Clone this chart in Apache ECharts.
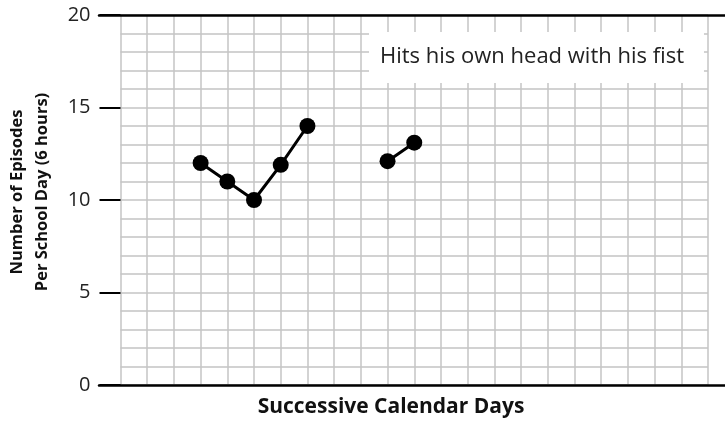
<!DOCTYPE html>
<html>
<head>
<meta charset="utf-8">
<script src="https://cdn.jsdelivr.net/npm/echarts@6/dist/echarts.min.js"></script>
<style>html,body{margin:0;padding:0;background:#fff}#c{width:725px;height:423px}</style>
</head>
<body>
<div id="c"></div>
<script>
var seriesName = 'Hits his own head with his fist';
var days = [3, 4, 5, 6, 7, 8, 9, 10, 11];
var episodes = [12, 11, 10, 11.9, 14, null, null, 12.1, 13.1];
var xMin = 0, xMax = 22;
var yMin = 0, yMax = 20, yStep = 5;
var yTitle = 'Number of Episodes\nPer School Day (6 hours)';
var xTitle = 'Successive Calendar Days';

var FONT = 'Open Sans';
var GRID_C = '#c4c4c4';
var pts = days.map(function (d, i) { return [d, episodes[i] == null ? '-' : episodes[i]]; });

var chart = echarts.init(document.getElementById('c'));
chart.setOption({
  animation: false,
  textStyle: { fontFamily: FONT },
  grid: [
    { left: 120.5, right: 17, top: 15, bottom: 38, outerBoundsMode: 'none', containLabel: false },
    { left: 99, right: 0, top: 15, bottom: 38, outerBoundsMode: 'none', containLabel: false }
  ],
  legend: {
    data: [seriesName], left: 369, top: 32, icon: 'none', itemWidth: 0, itemGap: 0,
    backgroundColor: '#fff', padding: [14, 20, 15, 6],
    textStyle: { fontFamily: FONT, fontSize: 22, color: '#222' }
  },
  xAxis: [
    { type: 'value', gridIndex: 0, min: xMin, max: xMax, interval: 1,
      axisLine: { show: false }, axisTick: { show: false }, axisLabel: { show: false },
      splitLine: { show: true, lineStyle: { color: GRID_C, width: 1.5 } } },
    { type: 'value', gridIndex: 1, min: 0, max: 1, position: 'bottom',
      axisLine: { show: true, lineStyle: { color: '#000', width: 2.5 } },
      axisTick: { show: false }, axisLabel: { show: false }, splitLine: { show: false },
      name: xTitle, nameLocation: 'middle', nameGap: 12,
      nameTextStyle: { fontFamily: FONT, fontWeight: 'bold', fontSize: 21, color: '#111', padding: [0, 42, 0, 0] } },
    { type: 'value', gridIndex: 1, min: 0, max: 1, position: 'top',
      axisLine: { show: true, lineStyle: { color: '#000', width: 2.5 } },
      axisTick: { show: false }, axisLabel: { show: false }, splitLine: { show: false } }
  ],
  yAxis: [
    { type: 'value', gridIndex: 0, min: yMin, max: yMax, interval: yStep,
      axisLine: { show: false },
      axisTick: { show: true, length: 21, lineStyle: { color: '#000', width: 2 } },
      axisLabel: { margin: 30, fontFamily: FONT, fontSize: 20, color: '#222' },
      splitLine: { show: true, lineStyle: { color: GRID_C, width: 1.5 } },
      minorTick: { show: false, splitNumber: 5 },
      minorSplitLine: { show: true, lineStyle: { color: GRID_C, width: 1.5 } },
      name: yTitle, nameLocation: 'middle', nameGap: 66, nameRotate: 90,
      nameTextStyle: { fontFamily: FONT, fontWeight: 'bold', fontSize: 16.5, color: '#111', lineHeight: 25, padding: [0, 0, 0, 16] } },
    { type: 'value', gridIndex: 1, min: 0, max: 1, show: false }
  ],
  series: [{
    name: seriesName, type: 'line', xAxisIndex: 0, yAxisIndex: 0,
    data: pts, connectNulls: false,
    symbol: 'circle', symbolSize: 16,
    lineStyle: { color: '#000', width: 3 },
    itemStyle: { color: '#000' }
  }]
});
</script>
</body>
</html>
